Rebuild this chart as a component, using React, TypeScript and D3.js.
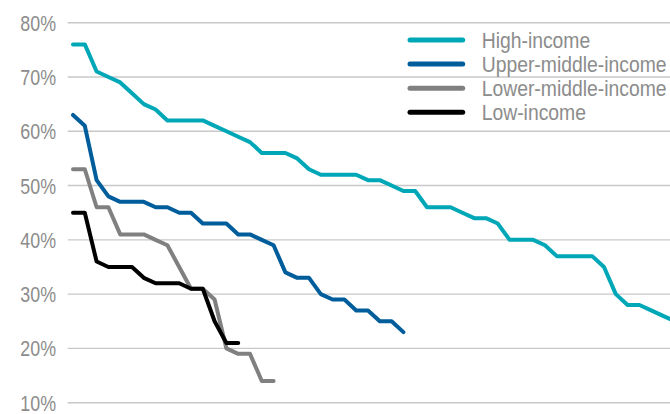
import React from "react";
import * as d3 from "d3";

const seriesNames = ["High-income", "Upper-middle-income", "Lower-middle-income", "Low-income"];
const seriesColors = ["#00a7b7", "#005d9c", "#808080", "#000000"];

const highIncome = [76, 76, 71, 70, 69, 67, 65, 64, 62, 62, 62, 62, 61, 60, 59, 58, 56, 56, 56, 55, 53, 52, 52, 52, 52, 51, 51, 50, 49, 49, 46, 46, 46, 45, 44, 44, 43, 40, 40, 40, 39, 37, 37, 37, 37, 35, 30, 28, 28, 27, 26, 25];
const upperMiddleIncome = [63, 61, 51, 48, 47, 47, 47, 46, 46, 45, 45, 43, 43, 43, 41, 41, 40, 39, 34, 33, 33, 30, 29, 29, 27, 27, 25, 25, 23];
const lowerMiddleIncome = [53, 53, 46, 46, 41, 41, 41, 40, 39, 35, 31, 31, 29, 20, 19, 19, 14, 14];
const lowIncome = [45, 45, 36, 35, 35, 35, 33, 32, 32, 32, 31, 31, 25, 21, 21];

const yTicks = [10, 20, 30, 40, 50, 60, 70, 80];

const W = 670;
const H = 414;

export default function App() {
  const x = d3.scaleLinear().domain([0, 50]).range([73, 663]);
  const y = d3.scaleLinear().domain([10, 80]).range([402.7, 22.7]);
  const line = d3
    .line<number>()
    .x((_, i) => x(i))
    .y((d) => y(d));
  const allSeries = [highIncome, upperMiddleIncome, lowerMiddleIncome, lowIncome];
  const font = "'Liberation Sans', Arial, sans-serif";
  const legendX = 410;
  const legendY0 = 40;
  const legendStep = 24.1;

  return (
    <svg
      width={W}
      height={H}
      style={{ position: "absolute", left: 0, top: 0, background: "#fff" }}
      fontFamily={font}
    >
      <g>
        {yTicks.map((t) => (
          <line key={"g" + t} x1={67.7} x2={W + 10} y1={y(t)} y2={y(t)} stroke="#c8c8c8" strokeWidth={1.4} />
        ))}
        {yTicks.map((t) => (
          <text
            key={"t" + t}
            transform={`translate(56,${y(t) + 8}) scale(0.83,1)`}
            textAnchor="end"
            fontSize={21.5}
            fill="#8c8c8c"
          >
            {t + "%"}
          </text>
        ))}
      </g>
      <g fill="none">
        {allSeries.map((s, k) => (
          <path
            key={seriesNames[k]}
            d={line(s) || ""}
            stroke={seriesColors[k]}
            strokeWidth={4}
            strokeLinejoin="round"
            strokeLinecap="round"
          />
        ))}
      </g>
      <g>
        {seriesNames.map((n, k) => (
          <g key={n} transform={`translate(0,${legendY0 + k * legendStep})`}>
            <line x1={legendX} x2={legendX + 52.7} y1={0} y2={0} stroke={seriesColors[k]} strokeWidth={5} strokeLinecap="round" />
            <text transform="translate(481.7,7.7) scale(0.9,1)" fontSize={21.5} fill="#8c8c8c">
              {n}
            </text>
          </g>
        ))}
      </g>
    </svg>
  );
}
